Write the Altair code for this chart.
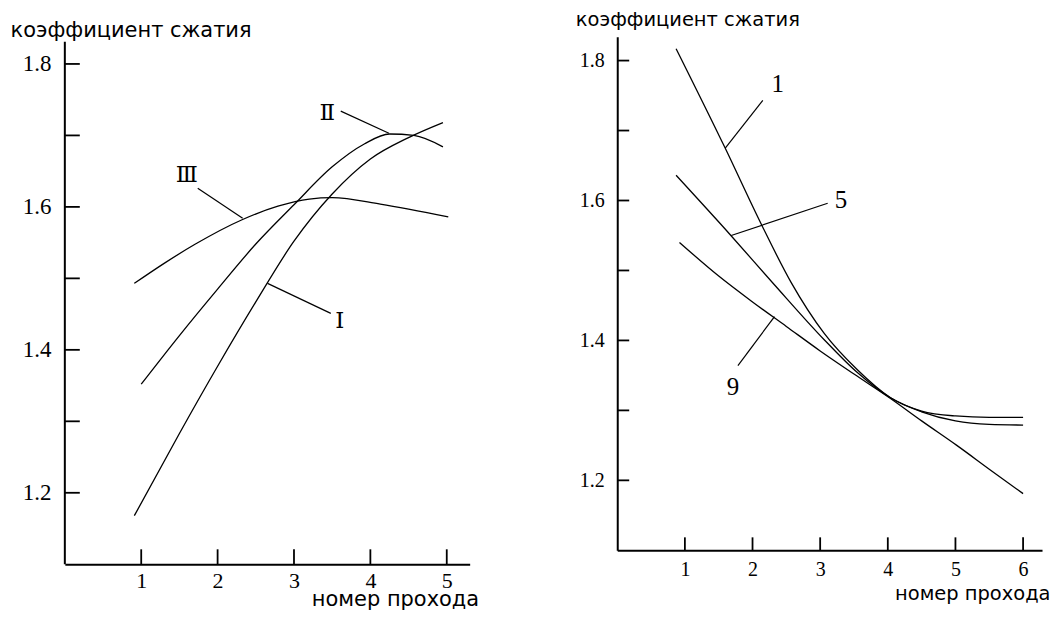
import altair as alt
import pandas as pd

# ---------------- data ----------------
# Left panel: passes 1..5, curves I, II, III
L_I_x = [0.91, 1.5, 2.0, 2.5, 3.0, 3.5, 4.0, 4.5, 4.95]
L_I_y = [1.168, 1.283, 1.377, 1.467, 1.552, 1.618, 1.667, 1.697, 1.718]
L_II_x = [1.0, 1.5, 2.0, 2.5, 3.0, 3.5, 3.92, 4.25, 4.57, 4.95]
L_II_y = [1.352, 1.42, 1.485, 1.548, 1.603, 1.656, 1.688, 1.702, 1.70, 1.684]
L_III_x = [0.91, 1.3, 1.71, 2.32, 2.79, 3.2, 3.5, 4.13, 5.02]
L_III_y = [1.493, 1.521, 1.548, 1.582, 1.601, 1.611, 1.613, 1.604, 1.586]

# Right panel: passes 1..6, curves 1, 5, 9
R_1_x = [0.87, 1.59, 2.13, 2.57, 3.06, 3.55, 4.04, 4.5, 5.0, 5.5, 6.0]
R_1_y = [1.817, 1.676, 1.566, 1.483, 1.410, 1.358, 1.318, 1.298, 1.285, 1.280, 1.279]
R_5_x = [0.87, 1.68, 2.32, 3.06, 3.55, 4.04, 4.5, 5.0, 5.5, 6.0]
R_5_y = [1.636, 1.55, 1.480, 1.401, 1.354, 1.318, 1.299, 1.292, 1.290, 1.290]
R_9_x = [0.92, 1.5, 2.0, 2.5, 3.0, 3.5, 4.04, 4.5, 5.02, 5.5, 6.0]
R_9_y = [1.54, 1.492, 1.455, 1.42, 1.385, 1.352, 1.317, 1.285, 1.25, 1.216, 1.181]

# axes
L_XTICKS = [1, 2, 3, 4, 5]
R_XTICKS = [1, 2, 3, 4, 5, 6]
YTICKS = [1.2, 1.3, 1.4, 1.5, 1.6, 1.7, 1.8]
YLABELS = [1.2, 1.4, 1.6, 1.8]
Y_TITLE = "коэффициент сжатия"
X_TITLE = "номер прохода"

# curve labels and their leader lines (data coordinates)
L_LABELS = ["Ⅰ", "Ⅱ", "Ⅲ"]
L_LAB_X = [3.599, 3.437, 1.597]
L_LAB_Y = [1.441, 1.732, 1.645]
L_LEAD_X1 = [3.482, 3.612, 1.740]
L_LEAD_Y1 = [1.451, 1.734, 1.626]
L_LEAD_X2 = [2.654, 4.243, 2.328]
L_LEAD_Y2 = [1.493, 1.703, 1.584]

R_LABELS = ["1", "5", "9"]
R_LAB_X = [2.374, 3.307, 1.710]
R_LAB_Y = [1.767, 1.600, 1.334]
R_LEAD_X1 = [2.152, 3.111, 1.784]
R_LEAD_Y1 = [1.743, 1.596, 1.364]
R_LEAD_X2 = [1.597, 1.685, 2.325]
R_LEAD_Y2 = [1.675, 1.550, 1.434]


def long_df(series):
    rows = []
    for name, xs, ys in series:
        for i, (a, b) in enumerate(zip(xs, ys)):
            rows.append({"s": name, "i": i, "x": a, "y": b})
    return pd.DataFrame(rows)


def panel(curves, xdom, ydom, W, H, xticks, xtick_len, ytick_len,
          xlab_font, ylab_font, title_font, lab_pad_x, lab_pad_y,
          ytitle_x, ytitle_y, xtitle_x, xtitle_y,
          labels, lab_x, lab_y, l_x1, l_y1, l_x2, l_y2, ann_font, ann_size,
          own_domain_top=None):
    xs = alt.Scale(domain=xdom, nice=False, zero=False)
    ys = alt.Scale(domain=ydom, nice=False, zero=False)
    x_axis = alt.Axis(
        values=xticks, format="d", ticks=False, grid=False,
        domainColor="black", domainWidth=2,
        labelFont="Liberation Serif", labelFontSize=xlab_font, labelColor="black",
        labelPadding=lab_pad_x, labelFlush=False, labelOverlap=False,
        title=X_TITLE, titleFont="DejaVu Sans", titleFontSize=title_font,
        titleFontWeight="normal", titleColor="black",
        titleX=xtitle_x, titleY=xtitle_y, titleAlign="right",
        titleBaseline="alphabetic",
    )
    y_axis = alt.Axis(
        values=YLABELS, format=".1f", ticks=False, grid=False,
        domain=own_domain_top is None,
        domainColor="black", domainWidth=2,
        labelFont="Liberation Serif", labelFontSize=ylab_font, labelColor="black",
        labelPadding=lab_pad_y, labelFlush=False, labelOverlap=False,
        title=Y_TITLE, titleFont="DejaVu Sans", titleFontSize=title_font,
        titleFontWeight="normal", titleColor="black", titleAngle=0,
        titleX=ytitle_x, titleY=ytitle_y, titleAlign="left",
        titleBaseline="alphabetic",
    )
    X = lambda f: alt.X(f, scale=xs, axis=x_axis)
    Y = lambda f: alt.Y(f, scale=ys, axis=y_axis)

    df = long_df(curves)
    lines = alt.Chart(df).mark_line(
        interpolate="monotone", color="black", strokeWidth=1.3
    ).encode(
        x=X("x:Q"), y=Y("y:Q"),
        detail="s:N",
        order="i:O",
    )
    ytk = alt.Chart(pd.DataFrame({"y": YTICKS})).mark_rule(
        color="black", strokeWidth=1.8
    ).encode(
        y=Y("y:Q"),
        x=alt.value(0), x2=alt.value(ytick_len),
    )
    xtk = alt.Chart(pd.DataFrame({"x": xticks})).mark_rule(
        color="black", strokeWidth=1.8
    ).encode(
        x=X("x:Q"),
        y=alt.value(H), y2=alt.value(H - xtick_len),
    )
    lead = alt.Chart(pd.DataFrame({
        "x": l_x1, "y": l_y1, "x2": l_x2, "y2": l_y2
    })).mark_rule(color="black", strokeWidth=1.2).encode(
        x=X("x:Q"), y=Y("y:Q"),
        x2="x2:Q", y2="y2:Q",
    )
    txt = alt.Chart(pd.DataFrame({
        "t": labels, "x": lab_x, "y": lab_y
    })).mark_text(
        font=ann_font, fontSize=ann_size, color="black",
        align="center", baseline="middle",
    ).encode(
        x=X("x:Q"), y=Y("y:Q"),
        text="t:N",
    )
    layers = [lines, ytk, xtk, lead, txt]
    if own_domain_top is not None:
        dom = alt.Chart(pd.DataFrame({"y": [ydom[0]], "y2": [own_domain_top]})).mark_rule(
            color="black", strokeWidth=2
        ).encode(
            x=alt.value(0),
            y=Y("y:Q"),
            y2="y2:Q",
        )
        layers.append(dom)
    return alt.layer(*layers).properties(width=W, height=H)


left = panel(
    [("I", L_I_x, L_I_y), ("II", L_II_x, L_II_y), ("III", L_III_x, L_III_y)],
    [0, 5.3], [1.1, 1.838], 406, 529, L_XTICKS, 15, 15,
    22, 23, 21, 6, 14,
    -55, 0, 415, 41,
    L_LABELS, L_LAB_X, L_LAB_Y, L_LEAD_X1, L_LEAD_Y1, L_LEAD_X2, L_LEAD_Y2,
    "DejaVu Serif", 23, own_domain_top=1.831,
)

right = panel(
    [("1", R_1_x, R_1_y), ("5", R_5_x, R_5_y), ("9", R_9_x, R_9_y)],
    [0, 6.28], [1.1, 1.834], 426, 515, R_XTICKS, 13, 12,
    20, 20, 19.5, 9, 13,
    -42, -11, 434, 49,
    R_LABELS, R_LAB_X, R_LAB_Y, R_LEAD_X1, R_LEAD_Y1, R_LEAD_X2, R_LEAD_Y2,
    "Liberation Serif", 25,
)

chart = alt.hconcat(left, right, spacing=148, bounds="flush").properties(
    padding={"left": 2, "top": 1, "right": 0, "bottom": 0},
    background="white",
).configure_view(strokeWidth=0)

chart.save("out.html", embed_options={"renderer": "svg", "actions": False})
